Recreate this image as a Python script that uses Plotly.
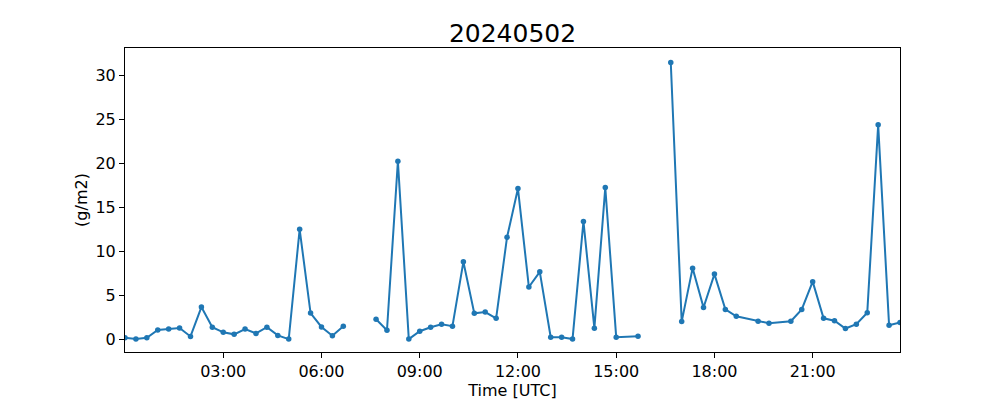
import plotly.graph_objects as go

# Times (UTC) on 2024-05-02; None in values marks a break in the line
times = [
    "00:00", "00:20", "00:40", "01:00", "01:20", "01:40", "02:00", "02:20",
    "02:40", "03:00", "03:20", "03:40", "04:00", "04:20", "04:40", "05:00",
    "05:20", "05:40", "06:00", "06:20", "06:40", "07:00",
    "07:40", "08:00", "08:20", "08:40", "09:00", "09:20", "09:40", "10:00",
    "10:20", "10:40", "11:00", "11:20", "11:40", "12:00", "12:20", "12:40",
    "13:00", "13:20", "13:40", "14:00", "14:20", "14:40", "15:00",
    "15:40", "16:00",
    "16:40", "17:00", "17:20", "17:40", "18:00", "18:20", "18:40",
    "19:20", "19:40",
    "20:20", "20:40", "21:00", "21:20", "21:40", "22:00", "22:20", "22:40",
    "23:00", "23:20", "23:40",
]
values = [
    0.15, 0.0, 0.15, 1.04, 1.15, 1.27, 0.3, 3.65,
    1.35, 0.77, 0.54, 1.15, 0.65, 1.35, 0.42, 0.0,
    12.5, 2.96, 1.38, 0.38, 1.46, None,
    2.25, 1.01, 20.26, 0.0, 0.9, 1.35, 1.69, 1.47,
    8.8, 2.93, 3.08, 2.37, 11.6, 17.14, 5.93, 7.66,
    0.22, 0.22, 0.0, 13.4, 1.24, 17.25, 0.22,
    0.33, None,
    31.5, 1.99, 8.08, 3.6, 7.4, 3.38, 2.59,
    2.03, 1.8,
    2.03, 3.38, 6.54, 2.37, 2.1, 1.2, 1.69, 3.0,
    24.4, 1.58, 1.88,
]
day = "2024-05-02"
tick_labels = ["03:00", "06:00", "09:00", "12:00", "15:00", "18:00", "21:00"]

x = [f"{day} {t}" for t in times]

fig = go.Figure()
fig.add_trace(go.Scatter(
    x=x, y=values, mode="lines+markers",
    line=dict(color="#1f77b4", width=2),
    marker=dict(color="#1f77b4", size=5.5),
    connectgaps=False, showlegend=False,
))

font = "DejaVu Sans"
fig.update_layout(
    width=1000, height=400,
    margin=dict(l=117, r=108, t=40, b=47),
    paper_bgcolor="white", plot_bgcolor="white",
    font=dict(family=font, size=16, color="black"),
    title=dict(text="20240502", x=0.5045, xanchor="center",
               yref="paper", y=1, yanchor="bottom", pad=dict(b=6),
               font=dict(size=25, family=font, color="black")),
    xaxis=dict(
        range=[f"{day} 00:00", f"{day} 23:40"],
        tickvals=[f"{day} {t}" for t in tick_labels],
        ticktext=tick_labels,
        ticks="outside", ticklen=5, tickwidth=1, tickcolor="black",
        showline=True, linecolor="black", linewidth=1, mirror=True,
        showgrid=False, zeroline=False,
        tickfont=dict(size=16),
        title=dict(text="Time [UTC]", font=dict(size=16), standoff=4),
    ),
    yaxis=dict(
        range=[-1.47, 33.15],
        tickvals=[0, 5, 10, 15, 20, 25, 30],
        ticks="outside", ticklen=5, tickwidth=1, tickcolor="black",
        showline=True, linecolor="black", linewidth=1, mirror=True,
        showgrid=False, zeroline=False,
        tickfont=dict(size=16),
        title=dict(text="(g/m2)", font=dict(size=16), standoff=3),
    ),
)

fig.write_html("out.html")
